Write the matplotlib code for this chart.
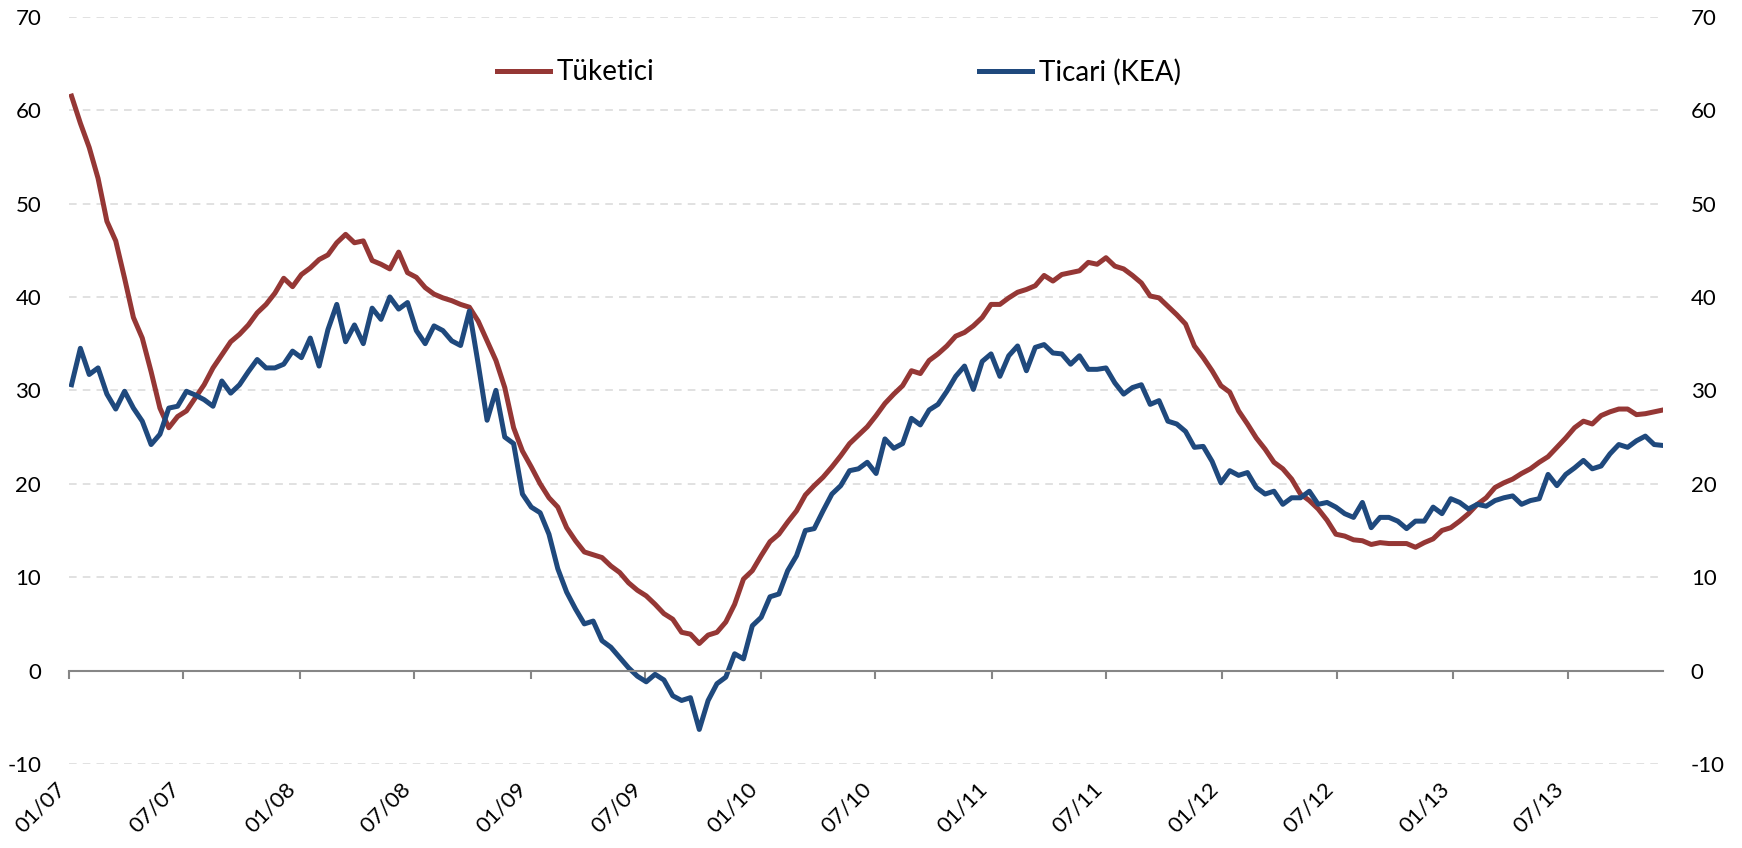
import matplotlib
matplotlib.use('Agg')
import matplotlib.pyplot as plt
import matplotlib.dates as mdates
import pandas as pd

plt.rcParams['font.family'] = ['Lato', 'DejaVu Sans']
plt.rcParams['axes.unicode_minus'] = False

# two-week observations, Jan 2007 - Nov 2013 (annual % change)
dates = pd.date_range('2007-01-05', periods=181, freq='14D')

tuketici = [
    61.5, 58.6, 56.0, 52.7, 48.1, 46.0, 42.0, 37.8, 35.6, 32.0,
    28.1, 26.0, 27.2, 27.8, 29.2, 30.6, 32.4, 33.8, 35.2, 36.0,
    37.0, 38.3, 39.2, 40.4, 42.0, 41.1, 42.4, 43.1, 44.0, 44.5,
    45.8, 46.7, 45.8, 46.0, 43.9, 43.5, 43.0, 44.8, 42.6, 42.1,
    41.0, 40.3, 39.9, 39.6, 39.2, 38.9, 37.4, 35.3, 33.2, 30.3,
    26.0, 23.5, 21.8, 20.0, 18.5, 17.5, 15.3, 13.9, 12.7, 12.4,
    12.1, 11.2, 10.5, 9.4, 8.6, 8.0, 7.1, 6.1, 5.5, 4.1,
    3.9, 2.9, 3.8, 4.1, 5.2, 7.1, 9.8, 10.7, 12.3, 13.8,
    14.6, 15.9, 17.1, 18.8, 19.8, 20.7, 21.8, 23.0, 24.3, 25.2,
    26.1, 27.3, 28.6, 29.6, 30.5, 32.1, 31.8, 33.2, 33.9, 34.75,
    35.8, 36.2, 36.9, 37.8, 39.2, 39.2, 39.9, 40.5, 40.8, 41.2,
    42.3, 41.7, 42.4, 42.6, 42.8, 43.7, 43.5, 44.2, 43.3, 43.0,
    42.3, 41.5, 40.1, 39.9, 39.0, 38.1, 37.1, 34.75, 33.5, 32.1,
    30.5, 29.8, 27.8, 26.4, 24.9, 23.7, 22.3, 21.6, 20.5, 18.9,
    18.2, 17.3, 16.1, 14.6, 14.4, 14.0, 13.9, 13.5, 13.7, 13.6,
    13.6, 13.6, 13.2, 13.7, 14.1, 15.0, 15.3, 16.0, 16.8, 17.8,
    18.5, 19.6, 20.1, 20.5, 21.1, 21.6, 22.3, 22.9, 23.9, 24.9,
    26.0, 26.7, 26.4, 27.3, 27.7, 28.0, 28.0, 27.4, 27.5, 27.7,
    27.9,
]

ticari = [
    30.6, 34.5, 31.7, 32.4, 29.6, 28.0, 29.9, 28.1, 26.7, 24.2,
    25.3, 28.1, 28.3, 29.9, 29.5, 29.0, 28.3, 31.0, 29.7, 30.6,
    32.0, 33.3, 32.4, 32.4, 32.8, 34.2, 33.5, 35.6, 32.6, 36.5,
    39.2, 35.2, 37.0, 35.0, 38.8, 37.6, 40.0, 38.7, 39.4, 36.4,
    35.0, 36.9, 36.4, 35.3, 34.8, 38.5, 32.8, 26.8, 30.0, 25.0,
    24.3, 18.9, 17.5, 16.9, 14.6, 10.9, 8.4, 6.6, 5.0, 5.3,
    3.2, 2.5, 1.4, 0.3, -0.6, -1.2, -0.4, -1.0, -2.7, -3.2,
    -2.9, -6.3, -3.2, -1.4, -0.7, 1.8, 1.25, 4.8, 5.7, 7.9,
    8.2, 10.7, 12.3, 15.0, 15.2, 17.1, 18.9, 19.8, 21.4, 21.6,
    22.3, 21.1, 24.8, 23.8, 24.3, 27.0, 26.3, 27.9, 28.5, 29.9,
    31.5, 32.6, 30.1, 33.1, 33.9, 31.5, 33.7, 34.75, 32.1, 34.6,
    34.9, 34.0, 33.9, 32.8, 33.7, 32.25, 32.25, 32.4, 30.8, 29.6,
    30.3, 30.6, 28.5, 28.9, 26.7, 26.4, 25.6, 23.9, 24.0, 22.4,
    20.1, 21.4, 20.9, 21.2, 19.6, 18.9, 19.2, 17.8, 18.5, 18.5,
    19.2, 17.8, 18.0, 17.5, 16.8, 16.4, 18.0, 15.3, 16.4, 16.4,
    16.0, 15.2, 16.0, 16.0, 17.5, 16.8, 18.4, 18.0, 17.3, 17.8,
    17.6, 18.2, 18.5, 18.7, 17.8, 18.2, 18.4, 21.0, 19.8, 21.0,
    21.7, 22.5, 21.6, 21.9, 23.2, 24.2, 23.9, 24.6, 25.1, 24.2,
    24.1,
]

red = '#953735'
blue = '#1F497D'
axis_grey = '#868686'

fig = plt.figure(figsize=(17.42, 8.48), dpi=100)
ax = fig.add_axes([69 / 1742, 1 - 764 / 848, (1663 - 69) / 1742, (764 - 16.7) / 848])

ax.plot(dates, tuketici, color=red, lw=3.6, label='Tüketici', solid_joinstyle='round')
ax.plot(dates, ticari, color=blue, lw=3.6, label='Ticari (KEA)', solid_joinstyle='round')

ax.set_ylim(-10, 70)
ax.set_yticks(range(-10, 71, 10))
ax.set_xlim(pd.Timestamp('2007-01-01'), dates[-1])

ax.yaxis.grid(True, color='#D9D9D9', linestyle=(0, (5, 4)), lw=1.1)
ax.set_axisbelow(True)

for s in ['top', 'left', 'right']:
    ax.spines[s].set_visible(False)
ax.spines['bottom'].set_position(('data', 0))
ax.spines['bottom'].set_color(axis_grey)
ax.spines['bottom'].set_linewidth(1.5)

ax.xaxis.set_major_locator(mdates.MonthLocator(bymonth=[1, 7]))
ax.xaxis.set_major_formatter(mdates.DateFormatter('%m/%y'))
# labels sit below the -10 line, ticks stay on the zero line
ax.tick_params(axis='x', direction='out', length=6, width=1.5, color=axis_grey,
               pad=72, labelsize=16, labelcolor='black')
for lab in ax.get_xticklabels():
    lab.set_rotation(45)
    lab.set_ha('right')

ax.tick_params(axis='y', length=0, pad=20, labelsize=16, labelcolor='black',
               left=False, right=False, labelleft=True, labelright=True)

ax.legend(loc='center left', bbox_to_anchor=(0.2685, 0.926), ncol=2, frameon=False,
          fontsize=20, handlelength=1.9, handletextpad=0.25, columnspacing=11.7,
          borderaxespad=0, borderpad=0)

fig.savefig('out.png', dpi=100)
